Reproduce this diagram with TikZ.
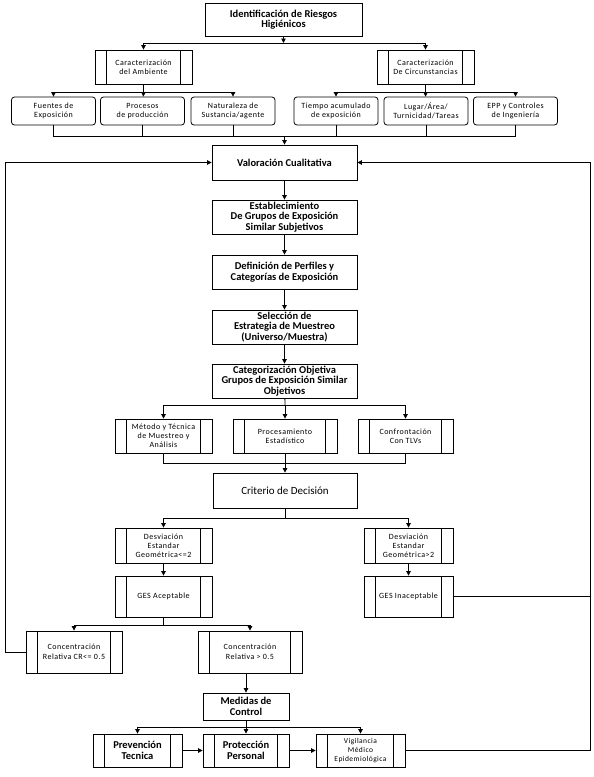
\documentclass[tikz,border=0pt]{standalone}
\usepackage{fontspec}
\setmainfont{Carlito}
\newfontfamily\widefont[LetterSpace=6]{Carlito}
\usetikzlibrary{arrows.meta, positioning}

\begin{document}
\begin{tikzpicture}[
    x=1pt, y=-1pt,
    >={Triangle[length=4.5pt, width=4.5pt]},
    line width=0.8pt,
    box/.style={draw, rectangle, align=center, inner sep=1pt, font=\fontsize{10.5}{10.5}\selectfont\bfseries},
    rbox/.style={draw, rectangle, rounded corners=3pt, align=center, inner sep=1pt, minimum width=84pt, minimum height=28pt, font=\widefont\fontsize{8}{9.3}\selectfont},
    procbox/.style={draw, rectangle, align=center, inner sep=1pt, font=\widefont\fontsize{8}{9}\selectfont,
        path picture={\draw[line width=0.8pt]
            ([xshift=#1]path picture bounding box.north west) -- ([xshift=#1]path picture bounding box.south west)
            ([xshift=-#1]path picture bounding box.north east) -- ([xshift=-#1]path picture bounding box.south east);}},
    procbox/.default=11.5pt,
]
\useasboundingbox (0,0) rectangle (594,777);

% Identificacion
\node[box, minimum width=157pt, minimum height=33pt] (ident) at (283.5,19.5) {Identificación de Riesgos\\Higiénicos};

% Caracterizacion
\node[procbox, minimum width=97pt, minimum height=34pt] (amb) at (143.5,67) {Caracterización\\del Ambiente};
\node[procbox, minimum width=97pt, minimum height=34pt] (circ) at (425.5,67) {Caracterización\\De Circunstancias};

% Factores
\node[rbox] (fuentes) at (53.5,111) {Fuentes de\\Exposición};
\node[rbox] (procesos) at (142.5,111) {Procesos\\de producción};
\node[rbox] (natur) at (233,111) {Naturaleza de\\Sustancia/agente};
\node[rbox] (tiempo) at (336,111) {Tiempo acumulado\\de exposición};
\node[rbox] (lugar) at (426,111) {Lugar/Área/\\Turnicidad/Tareas};
\node[rbox] (epp) at (515.5,111) {EPP y Controles\\de Ingeniería};

% Secuencia central
\node[box, minimum width=145pt, minimum height=35pt] (valor) at (284.5,162.5) {Valoración Cualitativa};
\node[box, minimum width=145pt, minimum height=34pt] (estab) at (284.5,217) {Establecimiento\\De Grupos de Exposición\\Similar Subjetivos};
\node[box, minimum width=145pt, minimum height=34pt] (perfil) at (284.5,272) {Definición de Perfiles y\\Categorías de Exposición};
\node[box, minimum width=145pt, minimum height=34pt] (selec) at (284.5,327) {Selección de\\Estrategia de Muestreo\\(Universo/Muestra)};
\node[box, minimum width=145pt, minimum height=34pt] (categ) at (284.5,381) {Categorización Objetiva\\Grupos de Exposición Similar\\Objetivos};

% Analisis
\node[procbox, minimum width=97pt, minimum height=34pt] (metodo) at (163.5,436) {Método y Técnica\\de Muestreo y\\Análisis};
\node[procbox, minimum width=104pt, minimum height=34pt] (estad) at (285,436) {Procesamiento\\Estadístico};
\node[procbox, minimum width=95pt, minimum height=34pt] (tlv) at (405.5,436) {Confrontación\\Con TLVs};

\node[box, minimum width=144pt, minimum height=35pt, font=\fontsize{11}{12}\selectfont] (crit) at (285,490.5) {Criterio de Decisión};

% Decision
\node[procbox, minimum width=97pt, minimum height=35pt] (desvA) at (163.5,545.5) {Desviación\\Estandar\\Geométrica<=2};
\node[procbox, minimum width=89pt, minimum height=35pt] (desvI) at (408.5,545.5) {Desviación\\Estandar\\Geométrica>2};
\node[procbox, minimum width=97pt, minimum height=41pt] (gesA) at (163.5,596.5) {GES Aceptable};
\node[procbox, minimum width=89pt, minimum height=41pt] (gesI) at (408.5,596.5) {GES Inaceptable};
\node[procbox, minimum width=96pt, minimum height=42pt, font=\widefont\fontsize{8}{9.5}\selectfont] (concB) at (74,652) {Concentración\\Relativa CR<= 0.5};
\node[procbox, minimum width=104pt, minimum height=42pt, font=\widefont\fontsize{8}{9.5}\selectfont] (concA) at (250,652) {Concentración\\Relativa > 0.5};

% Control
\node[box, minimum width=86pt, minimum height=27pt] (medidas) at (246,706.5) {Medidas de\\Control};
\node[procbox, minimum width=89pt, minimum height=33pt, font=\fontsize{10.5}{11}\selectfont\bfseries] (prev) at (137.5,750.5) {Prevención\\Tecnica};
\node[procbox, minimum width=86pt, minimum height=33pt, font=\fontsize{10.5}{11}\selectfont\bfseries] (prot) at (246,750.5) {Protección\\Personal};
\node[procbox, minimum width=89pt, minimum height=33pt, font=\widefont\fontsize{7.5}{9}\selectfont] (vigil) at (360.5,750.5) {Vigilancia\\Médico\\Epidemiológica};

% Buses
\coordinate (bIdent) at (283.5,43);
\coordinate (bAmb) at (143.5,92);
\coordinate (bCirc) at (425.5,92);
\coordinate (bFact) at (284.5,136);
\coordinate (bCateg) at (285,405);
\coordinate (bAnal) at (285,463);
\coordinate (bCrit) at (285,518);
\coordinate (bGes) at (163.5,625);
\coordinate (bMed) at (246,727);
\coordinate (lBot) at (5,652);
\coordinate (lTop) at (5,162.5);
\coordinate (rBot) at (590,750.5);
\coordinate (rGes) at (590,596.5);
\coordinate (rTop) at (590,162.5);

% Conexiones
\draw[->] (ident) -- (bIdent);
\draw[->] (bIdent) -| (amb);
\draw[->] (bIdent) -| (circ);
\draw (amb) -- (bAmb);
\draw[->] (bAmb) -| (fuentes);
\draw[->] (bAmb) -- (procesos);
\draw[->] (bAmb) -| (natur);
\draw (circ) -- (bCirc);
\draw[->] (bCirc) -| (tiempo);
\draw[->] (bCirc) -- (lugar);
\draw[->] (bCirc) -| (epp);
\draw (fuentes) |- (bFact);
\draw (epp) |- (bFact);
\draw (procesos) -- (procesos |- bFact);
\draw (natur) -- (natur |- bFact);
\draw (tiempo) -- (tiempo |- bFact);
\draw (lugar) -- (lugar |- bFact);
\draw[->] (bFact) -- (valor);

\draw[->] (valor) -- (estab);
\draw[->] (estab) -- (perfil);
\draw[->] (perfil) -- (selec);
\draw[->] (selec) -- (categ);

\draw (categ) -- (bCateg);
\draw[->] (bCateg) -| (metodo);
\draw[->] (bCateg) -- (estad);
\draw[->] (bCateg) -| (tlv);
\draw (metodo) |- (bAnal);
\draw (tlv) |- (bAnal);
\draw[->] (estad) -- (crit);

\draw (crit) -- (bCrit);
\draw[->] (bCrit) -| (desvA);
\draw[->] (bCrit) -| (desvI);
\draw[->] (desvA) -- (gesA);
\draw[->] (desvI) -- (gesI);
\draw (gesA) -- (bGes);
\draw[->] (bGes) -| (concB);
\draw[->] (bGes) -| (concA);
\draw[->] (concB.west) -- (lBot) -- (lTop) -- (valor.west);
\draw[->] (concA.south -| medidas.north) -- (medidas);

\draw (medidas) -- (bMed);
\draw[->] (bMed) -| (prev);
\draw[->] (bMed) -- (prot);
\draw[->] (bMed) -| (vigil);
\draw[->] (prev) -- (prot);
\draw[->] (prot) -- (vigil);
\draw[->] (vigil) -- (rBot) -- (rTop) -- (valor.east);
\draw (gesI) -- (rGes);

\end{tikzpicture}
\end{document}
